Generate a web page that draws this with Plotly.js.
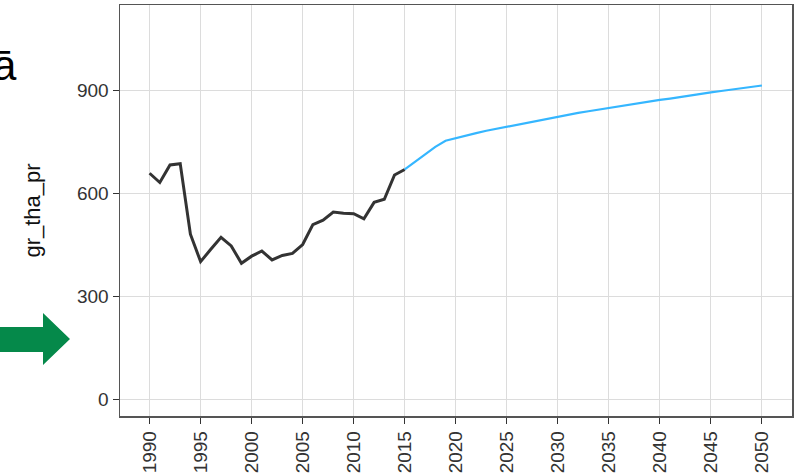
<!DOCTYPE html>
<html>
<head>
<meta charset="utf-8">
<script src="https://cdn.plot.ly/plotly-3.0.1.min.js"></script>
<style>html,body{margin:0;padding:0;background:#fff;}#chart{width:798px;height:476px;}</style>
</head>
<body>
<div id="chart"></div>
<script>
// Historical series (1990-2015)
var histYears = [1990,1991,1992,1993,1994,1995,1996,1997,1998,1999,2000,2001,2002,2003,2004,2005,2006,2007,2008,2009,2010,2011,2012,2013,2014,2015];
var histValues = [659,632,683,687,481,401,437,472,447,396,417,432,406,419,425,451,509,522,546,542,541,526,574,583,654,670];

// Projection series (2015-2050)
var projYears = [2015,2016,2017,2018,2019,2020,2021,2022,2023,2024,2025,2026,2027,2028,2029,2030,2031,2032,2033,2034,2035,2036,2037,2038,2039,2040,2041,2042,2043,2044,2045,2046,2047,2048,2049,2050];
var projValues = [670,692,714,736,754,762,769,776,783,789,795,801,807,813,819,825,830,835,840,845,850,855,860,864,869,873,877,882,886,890,895,899,903,907,911,915];

var yTicks = [0,300,600,900];
var xTicks = [1990,1995,2000,2005,2010,2015,2020,2025,2030,2035,2040,2045,2050];
var yTitle = "gr_tha_pr";
var cornerText = "ā";

var FONT = "Liberation Sans, Arial, Helvetica, sans-serif";

var traces = [
  {x: histYears, y: histValues, type: "scatter", mode: "lines",
   line: {color: "#333333", width: 3}, showlegend: false, hoverinfo: "x+y"},
  {x: projYears, y: projValues, type: "scatter", mode: "lines",
   line: {color: "#35b6ff", width: 2.2}, showlegend: false, hoverinfo: "x+y"}
];

// plot area geometry helpers (paper coords)
var L = 120, R = 6, T = 5, B = 60, W = 798, H = 476;
var pw = W - L - R, ph = H - T - B;
function px(x){ return (x - L) / pw; }
function py(y){ return (H - B - y) / ph; }

var arrowPath = "M " + px(0) + "," + py(327) +
  " L " + px(43) + "," + py(327) +
  " L " + px(43) + "," + py(313) +
  " L " + px(70) + "," + py(339) +
  " L " + px(43) + "," + py(365) +
  " L " + px(43) + "," + py(352) +
  " L " + px(0) + "," + py(352) + " Z";

var layout = {
  width: W, height: H,
  margin: {l: L, r: R, t: T, b: B, pad: 0},
  paper_bgcolor: "#ffffff",
  plot_bgcolor: "#ffffff",
  font: {family: FONT, size: 19, color: "#222222"},
  showlegend: false,
  xaxis: {
    range: [1987.1, 2052.95],
    tickmode: "array", tickvals: xTicks, ticktext: xTicks.map(String),
    tickangle: -90,
    ticks: "outside", ticklen: 6, tickwidth: 1, tickcolor: "#333333",
    showgrid: true, gridcolor: "#dcdcdc", gridwidth: 1,
    zeroline: false,
    showline: true, linecolor: "#555555", linewidth: 1.5, mirror: true,
    tickfont: {family: FONT, size: 19, color: "#333333"}
  },
  yaxis: {
    range: [-49.5, 1150],
    tickmode: "array", tickvals: yTicks, ticktext: yTicks.map(String),
    ticks: "outside", ticklen: 6, tickwidth: 1, tickcolor: "#333333",
    showgrid: true, gridcolor: "#dcdcdc", gridwidth: 1,
    zeroline: false,
    showline: true, linecolor: "#555555", linewidth: 1.5, mirror: true,
    tickfont: {family: FONT, size: 19, color: "#333333"},
    title: {text: yTitle, font: {family: FONT, size: 22, color: "#111111"}, standoff: 30}
  },
  shapes: [
    {type: "path", xref: "paper", yref: "paper", path: arrowPath,
     fillcolor: "#05894a", line: {width: 0}, layer: "above"}
  ],
  annotations: [
    {text: cornerText, xref: "paper", yref: "paper", x: px(19), y: py(65),
     xanchor: "right", yanchor: "middle", showarrow: false,
     font: {family: FONT, size: 42, color: "#000000"}}
  ]
};

Plotly.newPlot("chart", traces, layout, {displayModeBar: false, staticPlot: true});
</script>
</body>
</html>
